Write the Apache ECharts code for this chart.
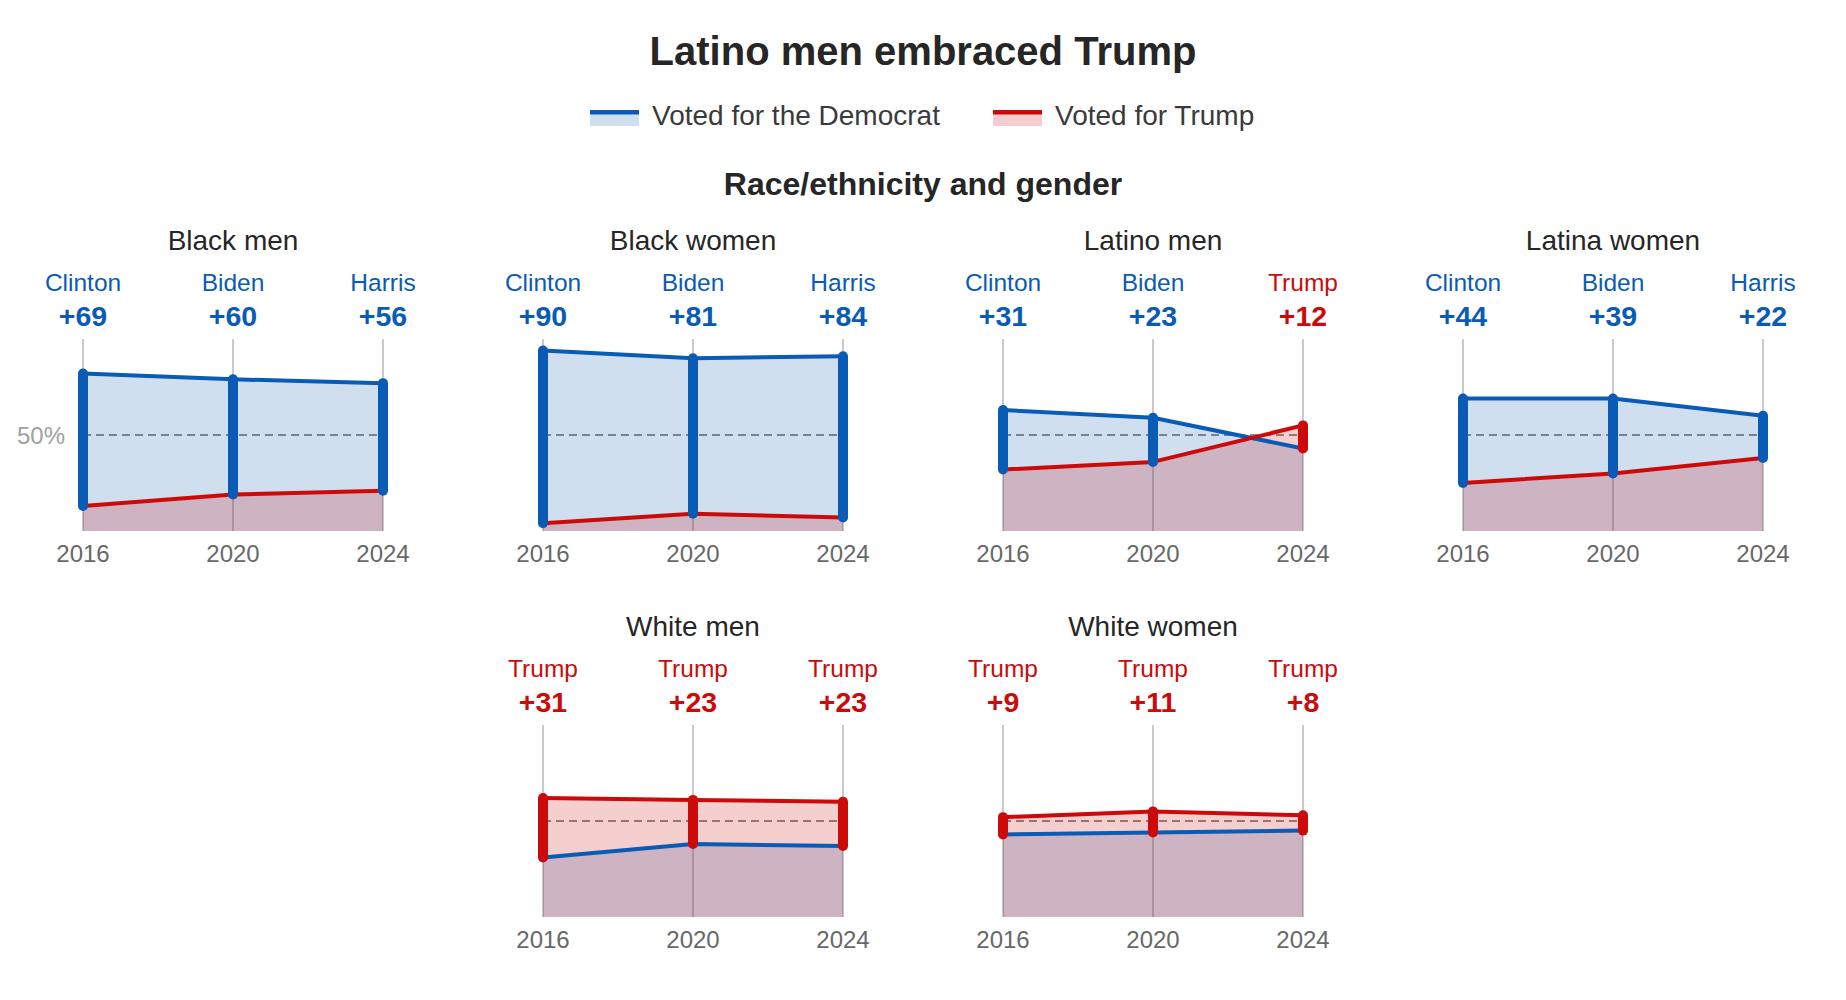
<!DOCTYPE html>
<html>
<head>
<meta charset="utf-8">
<script src="https://cdn.jsdelivr.net/npm/echarts@6/dist/echarts.min.js"></script>
<style>
html,body{margin:0;padding:0;background:#ffffff;}
#chart{width:1846px;height:1000px;}
</style>
</head>
<body>
<div id="chart"></div>
<script>
// ---------- data ----------
const years = ['2016', '2020', '2024'];
const demCandidates = ['Clinton', 'Biden', 'Harris'];
const repCandidate = 'Trump';
const panelNames = ['Black men', 'Black women', 'Latino men', 'Latina women', 'White men', 'White women'];

const blackMenDem = [82, 79, 77];
const blackMenRep = [13, 19, 21];
const blackMenMargin = [69, 60, 56];

const blackWomenDem = [94, 90, 91];
const blackWomenRep = [4, 9, 7];
const blackWomenMargin = [90, 81, 84];

const latinoMenDem = [63, 59, 43];
const latinoMenRep = [32, 36, 55];
const latinoMenMargin = [31, 23, 12];

const latinaWomenDem = [69, 69, 60];
const latinaWomenRep = [25, 30, 38];
const latinaWomenMargin = [44, 39, 22];

const whiteMenDem = [31, 38, 37];
const whiteMenRep = [62, 61, 60];
const whiteMenMargin = [31, 23, 23];

const whiteWomenDem = [43, 44, 45];
const whiteWomenRep = [52, 55, 53];
const whiteWomenMargin = [9, 11, 8];

const yTickLabel = '50%';

// ---------- styling ----------
const FONT = '"Liberation Sans", Arial, Helvetica, sans-serif';
const BLUE = '#0a5bb5';
const RED = '#cc0a0a';
const BLUE_FILL = 'rgba(10,91,181,0.195)';
const RED_FILL = 'rgba(204,10,10,0.2)';

const panels = [
  { name: panelNames[0], dem: blackMenDem, rep: blackMenRep, margin: blackMenMargin },
  { name: panelNames[1], dem: blackWomenDem, rep: blackWomenRep, margin: blackWomenMargin },
  { name: panelNames[2], dem: latinoMenDem, rep: latinoMenRep, margin: latinoMenMargin },
  { name: panelNames[3], dem: latinaWomenDem, rep: latinaWomenRep, margin: latinaWomenMargin },
  { name: panelNames[4], dem: whiteMenDem, rep: whiteMenRep, margin: whiteMenMargin },
  { name: panelNames[5], dem: whiteWomenDem, rep: whiteWomenRep, margin: whiteWomenMargin }
];

// layout of the small multiples
const PW = 300, PH = 192;
const layout = [
  { left: 83, top: 339 }, { left: 543, top: 339 }, { left: 1003, top: 339 }, { left: 1463, top: 339 },
  { left: 543, top: 725 }, { left: 1003, top: 725 }
];

const grid = [], xAxis = [], yAxis = [], series = [];
const graphic = [];

panels.forEach(function (p, i) {
  const L = layout[i];
  grid.push({ left: L.left, top: L.top, width: PW, height: PH });

  xAxis.push({
    gridIndex: i, type: 'category', data: years, boundaryGap: false, position: 'bottom',
    axisLine: { show: false }, axisTick: { show: false },
    axisLabel: { interval: 0, margin: 10.5, fontSize: 24, color: '#686868', fontFamily: FONT },
    splitLine: { show: true, interval: 0, lineStyle: { color: '#b9b9b9', width: 1.5 } }
  });

  const topLabels = years.map(function (y, j) {
    const demWins = p.dem[j] > p.rep[j];
    return (demWins ? demCandidates[j] : repCandidate) + '|+' + p.margin[j] + '|' + (demWins ? 'd' : 'r');
  });
  xAxis.push({
    gridIndex: i, type: 'category', data: topLabels, boundaryGap: false, position: 'top',
    axisLine: { show: false }, axisTick: { show: false }, splitLine: { show: false },
    axisLabel: {
      interval: 0, margin: 6, fontFamily: FONT,
      formatter: function (v) {
        const parts = v.split('|');
        return '{' + parts[2] + 'n|' + parts[0] + '}\n{' + parts[2] + 'm|' + parts[1] + '}';
      },
      rich: {
        dn: { color: BLUE, fontSize: 24.5, lineHeight: 34, fontFamily: FONT },
        dm: { color: BLUE, fontSize: 28.5, fontWeight: 'bold', lineHeight: 34, fontFamily: FONT },
        rn: { color: RED, fontSize: 24.5, lineHeight: 34, fontFamily: FONT },
        rm: { color: RED, fontSize: 28.5, fontWeight: 'bold', lineHeight: 34, fontFamily: FONT }
      }
    }
  });

  yAxis.push({
    gridIndex: i, type: 'value', min: 0, max: 100, interval: 50,
    axisLine: { show: false }, axisTick: { show: false },
    axisLabel: {
      show: i === 0, margin: 18, fontSize: 24, color: '#a0a0a0', fontFamily: FONT,
      formatter: function (v) { return v === 50 ? yTickLabel : ''; }
    },
    splitLine: {
      show: true, showMinLine: false, showMaxLine: false,
      lineStyle: { color: '#6a6a6a', type: [8, 5], width: 1.6 }
    }
  });

  // shaded areas (under the lines)
  series.push({
    name: 'Voted for the Democrat', type: 'line', xAxisIndex: 2 * i, yAxisIndex: i,
    data: p.dem, symbol: 'none', silent: true, animation: false, z: 2,
    lineStyle: { width: 0, opacity: 0 }, areaStyle: { color: BLUE_FILL, opacity: 1 }
  });
  series.push({
    name: 'Voted for Trump', type: 'line', xAxisIndex: 2 * i, yAxisIndex: i,
    data: p.rep, symbol: 'none', silent: true, animation: false, z: 2,
    lineStyle: { width: 0, opacity: 0 }, areaStyle: { color: RED_FILL, opacity: 1 }
  });
  // lines on top of both areas
  series.push({
    name: 'Voted for the Democrat', type: 'line', xAxisIndex: 2 * i, yAxisIndex: i,
    data: p.dem, symbol: 'none', silent: true, animation: false, z: 3,
    lineStyle: { color: BLUE, width: 4 }
  });
  series.push({
    name: 'Voted for Trump', type: 'line', xAxisIndex: 2 * i, yAxisIndex: i,
    data: p.rep, symbol: 'none', silent: true, animation: false, z: 3,
    lineStyle: { color: RED, width: 4 }
  });
  // thick margin bars
  series.push({
    type: 'custom', xAxisIndex: 2 * i, yAxisIndex: i, silent: true, animation: false, z: 5,
    encode: { x: 0, y: [1, 2] },
    data: p.dem.map(function (d, j) { return [j, d, p.rep[j]]; }),
    renderItem: function (params, api) {
      const x = api.value(0), d = api.value(1), r = api.value(2);
      const a = api.coord([x, d]), b = api.coord([x, r]);
      return {
        type: 'line',
        shape: { x1: a[0], y1: a[1], x2: b[0], y2: b[1] },
        style: { stroke: d > r ? BLUE : RED, lineWidth: 10, lineCap: 'round' }
      };
    }
  });

  graphic.push({
    type: 'text', x: L.left + PW / 2, y: L.top - 99,
    style: { text: p.name, fontSize: 28, fontFamily: FONT, fill: '#262626',
      align: 'center', verticalAlign: 'middle', textAlign: 'center', textVerticalAlign: 'middle' }
  });
});

// legend
graphic.push(
  { type: 'rect', shape: { x: 590, y: 110, width: 49, height: 16 }, style: { fill: '#d0dff0' } },
  { type: 'rect', shape: { x: 590, y: 110, width: 49, height: 4.5 }, style: { fill: BLUE } },
  { type: 'text', x: 652, y: 115.5, style: { text: 'Voted for the Democrat', fontSize: 28, fontFamily: FONT, fill: '#3a3a3a',
      align: 'left', verticalAlign: 'middle', textAlign: 'left', textVerticalAlign: 'middle' } },
  { type: 'rect', shape: { x: 993, y: 110, width: 49, height: 16 }, style: { fill: '#f5cdd0' } },
  { type: 'rect', shape: { x: 993, y: 110, width: 49, height: 4.5 }, style: { fill: RED } },
  { type: 'text', x: 1055, y: 115.5, style: { text: 'Voted for Trump', fontSize: 28, fontFamily: FONT, fill: '#3a3a3a',
      align: 'left', verticalAlign: 'middle', textAlign: 'left', textVerticalAlign: 'middle' } }
);

const option = {
  backgroundColor: '#ffffff',
  animation: false,
  title: [
    { text: 'Latino men embraced Trump', left: 'center', top: 31, padding: 0,
      textStyle: { fontSize: 40, fontWeight: 'bold', color: '#262626', fontFamily: FONT } },
    { text: 'Race/ethnicity and gender', left: 'center', top: 168, padding: 0,
      textStyle: { fontSize: 32, fontWeight: 'bold', color: '#262626', fontFamily: FONT } }
  ],
  grid: grid,
  xAxis: xAxis,
  yAxis: yAxis,
  series: series,
  graphic: graphic
};

const chart = echarts.init(document.getElementById('chart'), null, { renderer: 'svg' });
chart.setOption(option);
</script>
</body>
</html>
